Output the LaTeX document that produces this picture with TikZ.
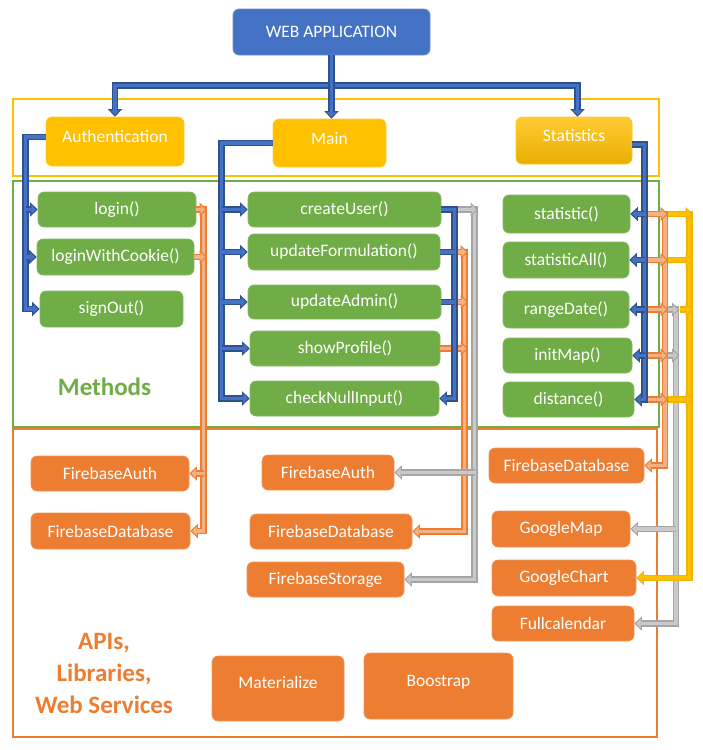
\documentclass[tikz,border=0pt]{standalone}
\usepackage{fontspec}
\setmainfont{Carlito}
\usetikzlibrary{arrows.meta}
\definecolor{bfill}{HTML}{4472C4}
\definecolor{bdark}{HTML}{2F528F}
\definecolor{webedge}{HTML}{6F8FCB}
\definecolor{yfill}{HTML}{FFC000}
\definecolor{ydark}{HTML}{F0B400}
\definecolor{ytop}{HTML}{FFCB33}
\definecolor{ybot}{HTML}{E8AE00}
\definecolor{grn}{HTML}{70AD47}
\definecolor{org}{HTML}{ED7D31}
\definecolor{sal}{HTML}{F4B183}
\definecolor{gryfill}{HTML}{C9C9C9}
\definecolor{grydark}{HTML}{A5A5A5}
\tikzset{
  bx/.style={rounded corners=6pt, text=white, align=center, inner sep=2pt, font=\fontsize{17.5}{21}\selectfont},
  wh/.style 2 args={minimum width=#1pt, minimum height=#2pt},
  gbox/.style={bx, fill=grn, draw=grn!85!white, line width=0.6pt},
  obox/.style={bx, fill=org, draw=org!80!white, line width=0.6pt},
  ybox/.style={bx, fill=yfill, draw=yfill!80!white, line width=0.6pt, text depth=10pt},
  pipe/.style 2 args={draw=#1, line width=6.8pt, postaction={draw=#2, line width=3.8pt, -}},
  pipeA/.style 2 args={draw=#1, line width=6.8pt, -{Triangle[length=7.5pt,width=14pt,fill=#2,line width=1pt]}, postaction={draw=#2, line width=3.8pt, -, shorten >=6.5pt}},
  bl/.style={pipe={bdark}{bfill}}, blA/.style={pipeA={bdark}{bfill}},
  slA/.style={pipeA={org}{sal}},
  glA/.style={pipeA={grydark}{gryfill}},
  ylA/.style={pipeA={ydark}{yfill}},
  frame/.style={line width=2pt},
}
\begin{document}
\begin{tikzpicture}[x=1pt,y=-1pt]
\useasboundingbox (0,0) rectangle (702,750);
\fill[white] (0,0) rectangle (702,750);
% containers
\draw[frame, yfill] (13,99) rectangle (659,176);
\draw[frame, grn] (13,181) rectangle (659,427);
\draw[frame, org] (13,429) rectangle (657,737);
% labels
\node[text=grn, font=\bfseries\fontsize{25}{30}\selectfont] (methods) at (104.5,387) {Methods};
\node[text=org, align=center, font=\bfseries\fontsize{25}{32}\selectfont] (apis) at (104,673) {APIs,\\Libraries,\\Web Services};
% boxes
\node[bx, fill=bfill, draw=webedge, line width=0.8pt, wh={197}{46}] (web) at (331.5,32) {WEB APPLICATION};
\node[ybox, wh={138}{49}] (auth) at (115,141.5) {Authentication};
\node[ybox, wh={113}{48}] (main) at (329.5,143) {Main};
\node[ybox, top color=ytop, bottom color=ybot, wh={116}{47}] (stats) at (574,140.5) {Statistics};
\node[gbox, wh={158}{35}] (login) at (117,209.5) {login()};
\node[gbox, wh={157}{36}] (lwc) at (115.5,257) {loginWithCookie()};
\node[gbox, wh={143}{36}] (signOut) at (111.5,309) {signOut()};
\node[gbox, wh={193}{35}] (createUser) at (344.5,209.5) {createUser()};
\node[gbox, wh={192}{36}] (updForm) at (344,252) {updateFormulation()};
\node[gbox, wh={193}{34}] (updAdmin) at (344.5,302) {updateAdmin()};
\node[gbox, wh={190}{35}] (showProfile) at (345,348.5) {showProfile()};
\node[gbox, wh={189}{35}] (checkNull) at (344.5,398.5) {checkNullInput()};
\node[gbox, wh={127}{38}] (statistic) at (566.5,214) {statistic()};
\node[gbox, wh={126}{36}] (statAll) at (566,260) {statisticAll()};
\node[gbox, wh={126}{37}] (rangeDate) at (566,309.5) {rangeDate()};
\node[gbox, wh={129}{35}] (initMap) at (567.5,355.5) {initMap()};
\node[gbox, wh={131}{35}] (distance) at (568.5,399.5) {distance()};
\node[obox, wh={158}{35}] (fbAuthL) at (110,473.5) {FirebaseAuth};
\node[obox, wh={159}{36}] (fbDbL) at (110.5,531) {FirebaseDatabase};
\node[obox, wh={132}{35}] (fbAuthM) at (328,472.5) {FirebaseAuth};
\node[obox, wh={162}{35}] (fbDbM) at (331,531.5) {FirebaseDatabase};
\node[obox, wh={157}{35}] (fbStM) at (325.5,579.5) {FirebaseStorage};
\node[obox, wh={155}{35}] (fbDbR) at (566.5,465.5) {FirebaseDatabase};
\node[obox, wh={138}{36}] (gMap) at (561,529) {GoogleMap};
\node[obox, wh={144}{36}] (gChart) at (564,578) {GoogleChart};
\node[obox, wh={142}{35}] (fullcal) at (563,623.5) {Fullcalendar};
\node[obox, wh={132}{65}, text depth=13pt] (materialize) at (278,688.5) {Materialize};
\node[obox, wh={149}{66}, text depth=10pt] (boostrap) at (438.5,686) {Boostrap};
% bar coordinates
\coordinate (aX) at (25.5,0);
\coordinate (mX) at (221.5,0);
\coordinate (mR) at (454.5,0);
\coordinate (sX) at (644.5,0);
\coordinate (sXr) at (647.5,0);
\coordinate (oL) at (203.5,0);
\coordinate (oLr) at (207,0);
\coordinate (oM) at (464.5,0);
\coordinate (oMr) at (468,0);
\coordinate (gM) at (474.5,0);
\coordinate (gMr) at (478,0);
\coordinate (oR) at (665,0);
\coordinate (oRr) at (668,0);
\coordinate (gR) at (676,0);
\coordinate (gRr) at (679.5,0);
\coordinate (yR) at (689.5,0);
\coordinate (yRr) at (693,0);
\coordinate (stTop) at (577.5,0);
% top level
\draw[blA] (web.south) -- ++(0,30) -| (auth.north);
\draw[blA] (web.south) -- ++(0,30) -| (stTop |- stats.north);
\draw[blA] (web.south) -- (web.south |- main.north);
% authentication
\draw[blA] ([yshift=4.5pt]auth.west) -| (aX |- signOut.west) -- (signOut.west);
\draw[blA] (aX |- login.west) -- (login.west);
\draw[blA] (aX |- lwc.west) -- (lwc.west);
% main left
\draw[blA] (main.west) -| (mX |- checkNull.west) -- (checkNull.west);
\draw[blA] (mX |- createUser.west) -- (createUser.west);
\draw[blA] (mX |- updForm.west) -- (updForm.west);
\draw[blA] (mX |- updAdmin.west) -- (updAdmin.west);
\draw[blA] (mX |- showProfile.west) -- (showProfile.west);
% left salmon
\draw[slA] (login.east) -| (oL |- fbDbL.east) -- (fbDbL.east);
\draw[slA] (oL |- fbAuthL.east) -- (fbAuthL.east);
\draw[slA] (login.east) -- (oLr |- login.east);
\draw[slA] (lwc.east) -- (oLr |- lwc.east);
% middle salmon
\draw[slA] (updForm.east) -| (oM |- fbDbM.east) -- (fbDbM.east);
\draw[slA] (updForm.east) -- (oMr |- updForm.east);
\draw[slA] (updAdmin.east) -- (oMr |- updAdmin.east);
\draw[slA] (showProfile.east) -- (oMr |- showProfile.east);
% middle gray
\draw[glA] (createUser.east) -| (gM |- fbStM.east) -- (fbStM.east);
\draw[glA] (gM |- fbAuthM.east) -- (fbAuthM.east);
\draw[glA] (createUser.east) -- (gMr |- createUser.east);
% main right blue
\draw[blA] (createUser.east) -| (mR |- checkNull.east) -- (checkNull.east);
\draw[bl] (updForm.east) -- (mR |- updForm.east);
\draw[bl] (updAdmin.east) -- (mR |- updAdmin.east);
% right salmon
\draw[slA] (sXr |- statistic.east) -| (oR |- fbDbR.east) -- (fbDbR.east);
\draw[slA] (sXr |- statistic.east) -- (oRr |- statistic.east);
\draw[slA] (sXr |- statAll.east) -- (oRr |- statAll.east);
\draw[slA] (sXr |- rangeDate.east) -- (oRr |- rangeDate.east);
\draw[slA] (sXr |- initMap.east) -- (oRr |- initMap.east);
\draw[slA] (sXr |- distance.east) -- (oRr |- distance.east);
% right gray
\draw[glA] (oRr |- rangeDate.east) -| (gR |- fullcal.east) -- (fullcal.east);
\draw[glA] (gR |- gMap.east) -- (gMap.east);
\draw[glA] (oRr |- rangeDate.east) -- (gRr |- rangeDate.east);
\draw[glA] (oRr |- initMap.east) -- (gRr |- initMap.east);
% right yellow
\draw[ylA] (oRr |- statistic.east) -| (yR |- gChart.east) -- (gChart.east);
\draw[ylA] (oRr |- statistic.east) -- (yRr |- statistic.east);
\draw[ylA] (oRr |- statAll.east) -- (yRr |- statAll.east);
\draw[ylA] (gRr |- rangeDate.east) -- (yRr |- rangeDate.east);
\draw[ylA] (oRr |- distance.east) -- (yRr |- distance.east);
% statistics blue
\draw[blA] ([yshift=-4pt]stats.east) -| (sX |- distance.east) -- (distance.east);
\draw[blA] (sX |- statistic.east) -- (statistic.east);
\draw[blA] (sX |- statAll.east) -- (statAll.east);
\draw[blA] (sX |- rangeDate.east) -- (rangeDate.east);
\draw[blA] (sX |- initMap.east) -- (initMap.east);
\end{tikzpicture}
\end{document}
